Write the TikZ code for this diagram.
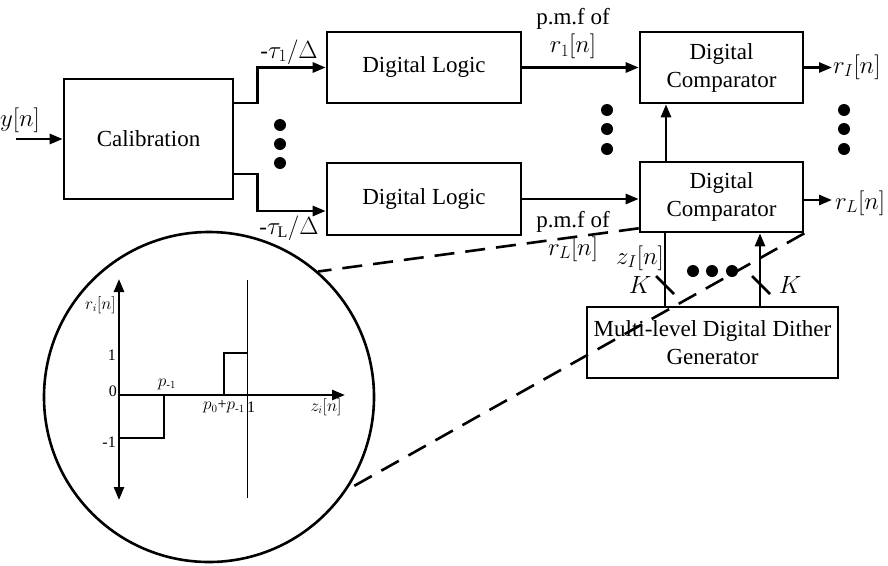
\documentclass[tikz,border=0pt]{standalone}
\usepackage{fontspec}
\setmainfont{Liberation Serif}
\usepackage{amsmath}
\usetikzlibrary{arrows.meta, positioning}

\begin{document}
\begin{tikzpicture}[
    x=1pt, y=-1pt,
    font=\fontsize{23}{28}\selectfont,
    block/.style={rectangle, draw, line width=2.6pt, align=center, inner sep=1pt},
    arrow/.style={->, line width=2.6pt, >={Triangle[length=13pt,width=10pt]}},
    wire/.style={line width=2.6pt},
    bigdot/.style={circle, fill, inner sep=0pt, minimum size=12pt},
    plotlabel/.style={font=\fontsize{16}{18}\selectfont, inner sep=1pt}
]
\useasboundingbox (0,0) rectangle (888,565);

\node[block, minimum width=169pt, minimum height=120pt] (calib) at (148.5,139) {Calibration};
\node[block, minimum width=194pt, minimum height=71pt] (dl1) at (424,67.5) {Digital Logic};
\node[block, minimum width=194pt, minimum height=72pt] (dlL) at (424,199) {Digital Logic};
\node[block, minimum width=163pt, minimum height=71pt] (dc1) at (721.5,67.5) {Digital\\Comparator};
\node[block, minimum width=163pt, minimum height=70pt] (dcL) at (721.5,197) {Digital\\Comparator};
\node[block, minimum width=251pt, minimum height=71pt] (dither) at (712.5,342.5) {Multi-level Digital Dither\\Generator};

% input and calibration outputs
\coordinate (yin) at (16,139);
\node (ylab) at (20,120) {$y[n]$};
\draw[arrow] (yin) -- (calib);
\draw[arrow] ([yshift=36pt]calib.east) -- ++(23,0) |- (dl1.west);
\draw[arrow] ([yshift=-35pt]calib.east) -- ++(23,0) |- ([yshift=-12pt]dlL.west);
\node (tau1) at (289,52) {-$\tau_1/\Delta$};
\node (tauL) at (289,228) {-$\tau_{\mathrm{L}}/\Delta$};

\foreach \y in {125,144,163}
    \node[bigdot] (ld\y) at (280,\y) {};
\foreach \y in {110,129,149}
    \node[bigdot] (md\y) at (607,\y) {};
\foreach \y in {110,129,149}
    \node[bigdot] (rd\y) at (844,\y) {};
\foreach \x in {693,712,732}
    \node[bigdot] (bd\x) at (\x,271) {};

% logic to comparators
\draw[arrow] (dl1) -- (dc1);
\draw[arrow] (dlL.east) -- (dlL.east -| dc1.west);
\node[align=center] (pmf1) at (573,34) {p.m.f of\\$r_1[n]$};
\node[align=center] (pmfL) at (573,236) {p.m.f of\\$r_L[n]$};
\draw[arrow] ([xshift=-55.5pt]dcL.north) -- ([xshift=-55.5pt]dc1.south);

% outputs
\coordinate (out1) at (832,67.5);
\coordinate (outL) at (832,200);
\draw[arrow] (dc1) -- (out1);
\draw[arrow] (dcL.east |- outL) -- (outL);
\node[anchor=west, inner sep=0pt] (r1) at (833,67) {$r_I[n]$};
\node[anchor=west, inner sep=0pt] (rL) at (835,203) {$r_L[n]$};

% dither generator
\draw[wire] ([xshift=-47.5pt]dither.north) -- ([xshift=-47.5pt]dither.north |- dcL.south);
\draw[arrow] ([xshift=47.5pt]dither.north) -- ([xshift=47.5pt]dither.north |- dcL.south);
\draw[wire] (656,276) -- (674,294);
\draw[wire] (752,276) -- (770,294);
\node (zlab) at (640,258) {$z_I[n]$};
\node (k1) at (640,285) {$K$};
\node (k2) at (790,285) {$K$};

% zoomed p.m.f
\node[circle, draw, line width=2.6pt, minimum size=330pt, inner sep=0pt] (zoom) at (209,397) {};
\draw[arrow, <->] (119,279) -- (119,500);
\draw[arrow] (119,395) -- (345,395);
\draw[wire] (119,438) -- (164,438) -- (164,395);
\draw[wire] (224,395) -- (224,353) -- (248,353);
\draw[line width=1pt] (247,280) -- (247,498);
\node[plotlabel, anchor=east] (rilab) at (117,305) {$r_i[n]$};
\node[plotlabel, anchor=east] (lev0) at (118,391) {0};
\node[plotlabel, anchor=east] (lev1) at (117,355) {1};
\node[plotlabel, anchor=east] (levm1) at (117,442) {-1};
\node[plotlabel] (pm1) at (167,384) {$p_{\text{-}1}$};
\node[plotlabel, anchor=east] (p0) at (246,407) {$p_0$+$p_{\text{-}1}$};
\node[plotlabel] (one) at (251,407) {1};
\node[plotlabel] (zilab) at (326,407) {$z_i[n]$};

% zoom lines
\draw[wire, dash pattern=on 20pt off 11pt] ([yshift=5pt]dcL.south west) -- (zoom.49);
\draw[wire, dash pattern=on 20pt off 11pt] (dcL.south east) -- (zoom.-34.5);
\end{tikzpicture}
\end{document}
